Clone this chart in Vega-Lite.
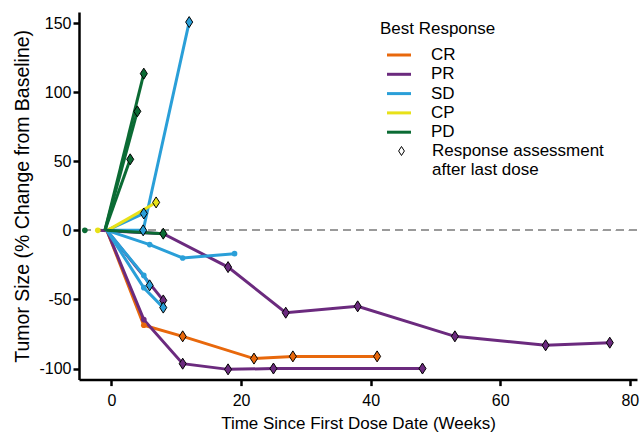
{
  "$schema": "https://vega.github.io/schema/vega-lite/v6.json",
  "width": 558,
  "height": 367.6,
  "autosize": {"type": "none"},
  "padding": {"left": 79, "top": 12, "right": 6, "bottom": 54},
  "config": {
    "font": "Liberation Sans",
    "view": {"stroke": null},
    "axis": {
      "domainColor": "black", "domainWidth": 2.5, "tickColor": "black", "tickWidth": 2.5, "tickSize": 6,
      "labelFontSize": 16, "labelColor": "black", "titleFontWeight": "normal", "titleColor": "black",
      "grid": false, "labelFont": "Liberation Sans", "titleFont": "Liberation Sans"
    },
    "legend": {
      "labelFontSize": 17, "titleFontSize": 17, "titleFontWeight": "normal", "labelColor": "black",
      "titleColor": "black", "labelFont": "Liberation Sans", "titleFont": "Liberation Sans",
      "rowPadding": 1.3, "padding": 0, "labelLimit": 300
    }
  },
  "data": {
    "values": [
      {"id": "C1", "resp": "CR", "kind": "start", "week": -0.7, "pct": 0},
      {"id": "C1", "resp": "CR", "kind": "dot", "week": 5.0, "pct": -68.7},
      {"id": "C1", "resp": "CR", "kind": "last", "week": 11.0, "pct": -76.7},
      {"id": "C1", "resp": "CR", "kind": "last", "week": 22.0, "pct": -92.8},
      {"id": "C1", "resp": "CR", "kind": "last", "week": 28.0, "pct": -91.2},
      {"id": "C1", "resp": "CR", "kind": "last", "week": 41.0, "pct": -91.2},
      {"id": "P1", "resp": "PR", "kind": "start", "week": -2.0, "pct": 0},
      {"id": "P1", "resp": "PR", "kind": "dot", "week": 8.0, "pct": -2.4},
      {"id": "P1", "resp": "PR", "kind": "last", "week": 18.0, "pct": -26.6},
      {"id": "P1", "resp": "PR", "kind": "last", "week": 26.9, "pct": -59.6},
      {"id": "P1", "resp": "PR", "kind": "last", "week": 38.0, "pct": -55.0},
      {"id": "P1", "resp": "PR", "kind": "last", "week": 53.0, "pct": -76.7},
      {"id": "P1", "resp": "PR", "kind": "last", "week": 67.0, "pct": -83.2},
      {"id": "P1", "resp": "PR", "kind": "last", "week": 76.9, "pct": -81.3},
      {"id": "P2", "resp": "PR", "kind": "start", "week": -0.7, "pct": 0},
      {"id": "P2", "resp": "PR", "kind": "dot", "week": 5.0, "pct": -64.6},
      {"id": "P2", "resp": "PR", "kind": "last", "week": 11.0, "pct": -96.5},
      {"id": "P2", "resp": "PR", "kind": "last", "week": 18.0, "pct": -100.6},
      {"id": "P2", "resp": "PR", "kind": "last", "week": 25.0, "pct": -100},
      {"id": "P2", "resp": "PR", "kind": "last", "week": 48.0, "pct": -100},
      {"id": "P3", "resp": "PR", "kind": "start", "week": -0.7, "pct": 0},
      {"id": "P3", "resp": "PR", "kind": "last", "week": 8.0, "pct": -50.7},
      {"id": "S1", "resp": "SD", "kind": "start", "week": -0.7, "pct": 0},
      {"id": "S1", "resp": "SD", "kind": "last", "week": 4.9, "pct": 0},
      {"id": "S1", "resp": "SD", "kind": "last", "week": 12.0, "pct": 150.7},
      {"id": "S2", "resp": "SD", "kind": "start", "week": -0.7, "pct": 0},
      {"id": "S2", "resp": "SD", "kind": "last", "week": 5.0, "pct": 12.2},
      {"id": "S3", "resp": "SD", "kind": "start", "week": -0.7, "pct": 0},
      {"id": "S3", "resp": "SD", "kind": "dot", "week": 5.9, "pct": -10.3},
      {"id": "S3", "resp": "SD", "kind": "dot", "week": 11.0, "pct": -20},
      {"id": "S3", "resp": "SD", "kind": "dot", "week": 19.0, "pct": -16.9},
      {"id": "S4", "resp": "SD", "kind": "start", "week": -0.7, "pct": 0},
      {"id": "S4", "resp": "SD", "kind": "dot", "week": 5.0, "pct": -32.6},
      {"id": "S4", "resp": "SD", "kind": "last", "week": 5.9, "pct": -39.8},
      {"id": "S5", "resp": "SD", "kind": "start", "week": -0.7, "pct": 0},
      {"id": "S5", "resp": "SD", "kind": "dot", "week": 5.0, "pct": -41.5},
      {"id": "S5", "resp": "SD", "kind": "last", "week": 8.0, "pct": -55.9},
      {"id": "Y1", "resp": "CP", "kind": "base", "week": -2.1, "pct": 0},
      {"id": "Y1", "resp": "CP", "kind": "start", "week": -0.6, "pct": 0},
      {"id": "Y1", "resp": "CP", "kind": "last", "week": 6.9, "pct": 20.2},
      {"id": "G1", "resp": "PD", "kind": "start", "week": -1.0, "pct": 0},
      {"id": "G1", "resp": "PD", "kind": "last", "week": 5.0, "pct": 113.4},
      {"id": "G2", "resp": "PD", "kind": "start", "week": -1.0, "pct": 0},
      {"id": "G2", "resp": "PD", "kind": "last", "week": 4.0, "pct": 86.1},
      {"id": "G3", "resp": "PD", "kind": "start", "week": -1.0, "pct": 0},
      {"id": "G3", "resp": "PD", "kind": "last", "week": 2.9, "pct": 51.4},
      {"id": "G4", "resp": "PD", "kind": "base", "week": -4.1, "pct": 0},
      {"id": "G4", "resp": "PD", "kind": "start", "week": -0.8, "pct": 0},
      {"id": "G4", "resp": "PD", "kind": "last", "week": 8.0, "pct": -2.4}
    ]
  },
  "encoding": {
    "x": {
      "field": "week", "type": "quantitative",
      "scale": {"domain": [-5, 81.1], "nice": false, "zero": false},
      "axis": {"values": [0, 20, 40, 60, 80], "title": "Time Since First Dose Date (Weeks)", "titleFontSize": 17, "titlePadding": 7, "labelPadding": 7}
    },
    "y": {
      "field": "pct", "type": "quantitative",
      "scale": {"domain": [-108, 158], "nice": false, "zero": false},
      "axis": {
        "values": [-100, -50, 0, 50, 100, 150], "title": "Tumor Size (% Change from Baseline)", "titleFontSize": 19.5,
        "titlePadding": 6, "labelPadding": 2,
        "labelExpr": "datum.value < 0 ? '-' + abs(datum.value) : '' + datum.value"
      }
    }
  },
  "layer": [
    {
      "mark": {"type": "rule", "color": "#9a9a9a", "strokeDash": [8, 5], "strokeWidth": 1.5},
      "encoding": {"y": {"datum": 0}, "x": null}
    },
    {
      "transform": [{"filter": "datum.kind != 'base'"}],
      "mark": {"type": "line", "strokeWidth": 3},
      "encoding": {
        "detail": {"field": "id"},
        "color": {
          "field": "resp", "type": "nominal",
          "scale": {"domain": ["CR", "PR", "SD", "CP", "PD"], "range": ["#E8680C", "#6B2A7E", "#2A9FD8", "#E8E118", "#0B6B34"]},
          "legend": {
            "title": "Best Response", "orient": "none", "legendX": 301, "legendY": 9.5,
            "symbolType": "M-0.3,0H4.5", "symbolSize": 100, "symbolStrokeWidth": 3,
            "labelOffset": 34, "titlePadding": 8
          }
        }
      }
    },
    {
      "transform": [{"filter": "datum.kind == 'dot' || datum.kind == 'base'"}],
      "mark": {"type": "circle", "size": 32, "opacity": 1},
      "encoding": {
        "color": {"field": "resp", "type": "nominal", "legend": null}
      }
    },
    {
      "transform": [{"filter": "datum.kind == 'last'"}],
      "mark": {"type": "point", "filled": true, "size": 121, "stroke": "black", "strokeWidth": 1, "opacity": 1},
      "encoding": {
        "fill": {
          "field": "resp", "type": "nominal",
          "scale": {"domain": ["CR", "PR", "SD", "CP", "PD"], "range": ["#E8680C", "#6B2A7E", "#2A9FD8", "#E8E118", "#0B6B34"]},
          "legend": null
        },
        "shape": {
          "field": "kind", "type": "nominal",
          "scale": {"domain": ["last", "cont"], "range": ["M0,-1L0.64,0L0,1L-0.64,0Z", "M0,0"]},
          "legend": {
            "title": null, "orient": "none", "legendX": 314, "legendY": 130.5,
            "symbolSize": 81, "symbolFillColor": "white", "symbolStrokeColor": "black", "symbolStrokeWidth": 1,
            "labelOffset": 22, "rowPadding": 1,
            "labelExpr": "datum.value == 'last' ? 'Response assessment' : 'after last dose'"
          }
        }
      }
    }
  ]
}
